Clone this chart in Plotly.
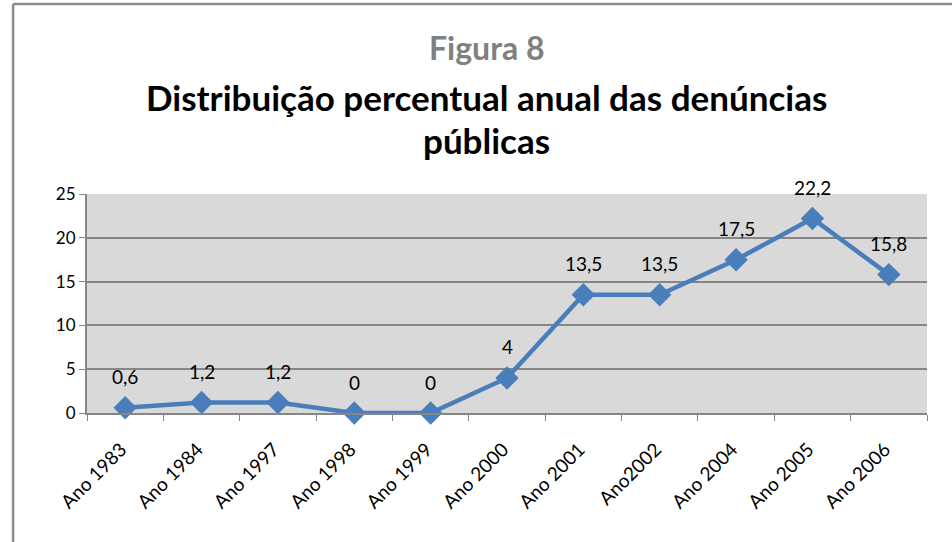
import plotly.graph_objects as go

anos = ["Ano 1983", "Ano 1984", "Ano 1997", "Ano 1998", "Ano 1999", "Ano 2000",
        "Ano 2001", "Ano2002", "Ano 2004", "Ano 2005", "Ano 2006"]
percentuais = [0.6, 1.2, 1.2, 0, 0, 4, 13.5, 13.5, 17.5, 22.2, 15.8]
y_ticks = [0, 5, 10, 15, 20, 25]

FONT = "Lato, 'Open Sans', sans-serif"
AXIS_GREY = "#868686"

fig = go.Figure()

fig.add_trace(go.Scatter(
    x=anos,
    y=percentuais,
    mode="lines+markers",
    line=dict(color="#4A7EBB", width=4.5),
    marker=dict(symbol="diamond", size=18, color="#4A7EBB"),
    cliponaxis=False,
    hoverinfo="x+y",
))

# data labels above each point
for ano, v in zip(anos, percentuais):
    fig.add_annotation(
        x=ano, y=v, yshift=31,
        text=f"{v:g}".replace(".", ","),
        showarrow=False,
        font=dict(family=FONT, size=19, color="black"),
    )

# titles
fig.add_annotation(
    xref="paper", yref="paper", x=0.475, y=1.671, yanchor="middle",
    text="<b>Figura 8</b>", showarrow=False,
    font=dict(family=FONT, size=32, color="#808080"),
)
fig.add_annotation(
    xref="paper", yref="paper", x=0.475, y=1.443, yanchor="middle",
    text="<b>Distribuição percentual anual das denúncias</b>", showarrow=False,
    font=dict(family=FONT, size=35, color="black"),
)
fig.add_annotation(
    xref="paper", yref="paper", x=0.475, y=1.247, yanchor="middle",
    text="<b>públicas</b>", showarrow=False,
    font=dict(family=FONT, size=35, color="black"),
)

# chart frame (only left and top edges visible in the crop)
fig.add_shape(type="line", xref="paper", yref="paper",
              x0=-0.088, x1=-0.088, y0=-0.7, y1=1.868,
              line=dict(color="#8C8C8C", width=2.5))
fig.add_shape(type="line", xref="paper", yref="paper",
              x0=-0.088, x1=1.1, y0=1.868, y1=1.868,
              line=dict(color="#8C8C8C", width=2.5))

fig.update_layout(
    width=952,
    height=542,
    margin=dict(l=87, r=25, t=194, b=129),
    paper_bgcolor="white",
    plot_bgcolor="#D9D9D9",
    showlegend=False,
    font=dict(family=FONT, size=17, color="black"),
)

fig.update_xaxes(
    type="category",
    range=[-0.5, len(anos) - 0.5],
    tickangle=-45,
    tickson="boundaries",
    ticks="outside",
    ticklen=6,
    tickcolor=AXIS_GREY,
    ticklabelstandoff=16,
    ticklabelshift=-4,
    showline=True,
    linecolor=AXIS_GREY,
    linewidth=2,
    showgrid=False,
    tickfont=dict(family=FONT, size=19),
)

fig.update_yaxes(
    range=[0, 25],
    tickvals=y_ticks,
    ticks="outside",
    ticklen=6,
    tickcolor=AXIS_GREY,
    showline=True,
    linecolor=AXIS_GREY,
    linewidth=2,
    showgrid=True,
    gridcolor=AXIS_GREY,
    gridwidth=1.5,
    zeroline=False,
    tickfont=dict(family=FONT, size=17),
)

# drop the default body margin so the figure sits at the page corner
fig.write_html(
    "out.html",
    config={"displayModeBar": False},
    post_script="document.body.style.margin='0';",
)
